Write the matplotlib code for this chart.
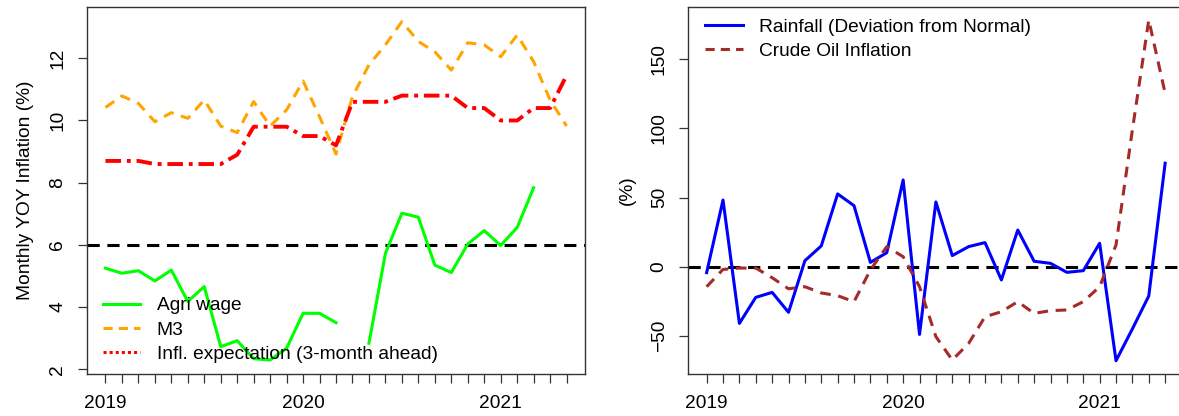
import numpy as np
import matplotlib
matplotlib.use("Agg")
import matplotlib.pyplot as plt
from matplotlib.lines import Line2D

plt.rcParams["font.family"] = ["Liberation Sans", "DejaVu Sans"]
plt.rcParams["font.size"] = 13.8

# months from Jan 2019 to May 2021
n_months = 29
year_labels = {0: "2019", 12: "2020", 24: "2021"}

agri_wage = [5.25, 5.09, 5.17, 4.84, 5.19, 4.18, 4.66, 2.73, 2.92, 2.34,
             2.30, 2.68, 3.80, 3.80, 3.50, np.nan, 2.84, 5.73, 7.02, 6.89,
             5.35, 5.11, 6.03, 6.46, 5.98, 6.56, 7.84, np.nan, np.nan]
m3 = [10.42, 10.79, 10.55, 9.96, 10.25, 10.07, 10.66, 9.82, 9.61, 10.61,
      9.82, 10.34, 11.27, 10.12, 8.92, 10.77, 11.79, 12.43, 13.18, 12.54,
      12.21, 11.62, 12.50, 12.43, 12.05, 12.75, 11.89, 10.66, 9.82]
infl_exp = [8.7, 8.7, 8.7, 8.6, 8.6, 8.6, 8.6, 8.6, 8.9, 9.8,
            9.8, 9.8, 9.5, 9.5, 9.2, 10.6, 10.6, 10.6, 10.8, 10.8,
            10.8, 10.8, 10.4, 10.4, 10.0, 10.0, 10.4, 10.4, 11.45]
target = 6

rainfall = [-4.3, 48.2, -41, -22.2, -18.6, -33, 4.3, 15, 52.6, 44.1,
            3.1, 10.1, 62.7, -49, 46.8, 8, 14.5, 17.4, -9.6, 26.5,
            3.9, 2.4, -4.1, -2.9, 16.9, -68, -45, -21.2, 74.8]
crude_oil = [-14.5, -2, -1, -1, -8, -16, -14.5, -19, -21, -25.3,
             -2.4, 14.5, 7.2, -14.5, -50.6, -67.5, -55.5, -36.2, -32.6, -25.3,
             -33.8, -31.8, -31.3, -25.3, -14.5, 15.7, 98.9, 178.4, 125.4]

x = np.arange(n_months)
ticklabels = [year_labels.get(i, "") for i in x]

fig = plt.figure(figsize=(11.79, 4.16), dpi=100)
ax1 = fig.add_axes([0.0738, 0.101, 0.4224, 0.883])
ax2 = fig.add_axes([0.5838, 0.101, 0.42, 0.883])

lw = 2.2
ax1.axhline(target, color="black", lw=lw, ls=(0, (4, 2.5)))
ax1.plot(x, agri_wage, color="#00ff00", lw=lw)
ax1.plot(x, m3, color="#ffa500", lw=lw, ls=(0, (3.5, 2.5)))
ax1.plot(x, infl_exp, color="#ff0000", lw=2.8, ls=(0, (4, 1.5, 1, 1.5)))
ax1.set_ylim(1.85, 13.66)
ax1.set_yticks([2, 4, 6, 8, 10, 12])
ax1.set_ylabel("Monthly YOY Inflation (%)", labelpad=11)

handles1 = [
    Line2D([], [], color="#00ff00", lw=lw),
    Line2D([], [], color="#ffa500", lw=lw, ls=(0, (3, 2))),
    Line2D([], [], color="#ff0000", lw=lw, ls=(0, (1, 1))),
]
ax1.legend(handles1, ["Agri wage", "M3", "Infl. expectation (3-month ahead)"],
           loc="lower left", bbox_to_anchor=(0.032, 0.03), frameon=False,
           handlelength=1.95, handletextpad=0.85, labelspacing=0.36, borderpad=0,
           borderaxespad=0)

ax2.axhline(0, color="black", lw=lw, ls=(0, (4, 2.5)))
ax2.plot(x, rainfall, color="#0000ff", lw=lw)
ax2.plot(x, crude_oil, color="#a52a2a", lw=lw, ls=(0, (3.5, 2.5)))
ax2.set_ylim(-77.6, 188)
ax2.set_yticks([-50, 0, 50, 100, 150])
ax2.set_ylabel("(%)", labelpad=11)

handles2 = [
    Line2D([], [], color="#0000ff", lw=lw),
    Line2D([], [], color="#a52a2a", lw=lw, ls=(0, (3, 2))),
]
ax2.legend(handles2, ["Rainfall (Deviation from Normal)", "Crude Oil Inflation"],
           loc="upper left", bbox_to_anchor=(0.034, 0.968), frameon=False,
           handlelength=1.95, handletextpad=0.85, labelspacing=0.36, borderpad=0,
           borderaxespad=0)

for ax in (ax1, ax2):
    ax.set_xlim(-1.12, 29.12)
    ax.set_xticks(x)
    ax.set_xticklabels(ticklabels)
    ax.tick_params(axis="both", length=6.8, width=0.9, direction="out", color="#333333")
    ax.tick_params(axis="x", pad=8)
    ax.tick_params(axis="y", pad=8)
    for lab in ax.get_yticklabels():
        lab.set_rotation(90)
        lab.set_va("center")
    for s in ax.spines.values():
        s.set_linewidth(1.0)
        s.set_color("#333333")

fig.savefig("out.png", dpi=100)
